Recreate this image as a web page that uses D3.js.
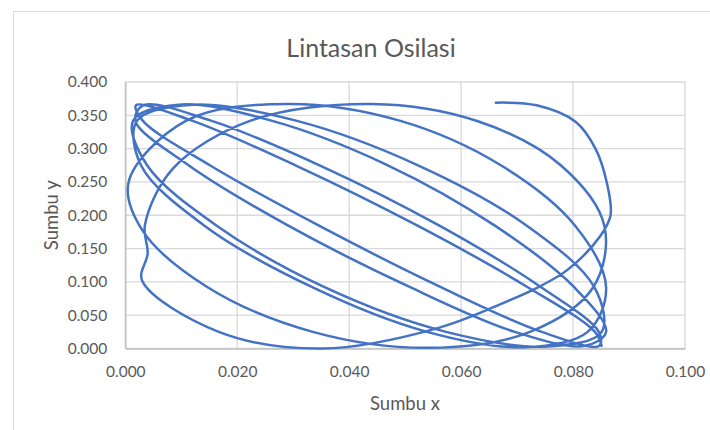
<!DOCTYPE html>
<html>
<head>
<meta charset="utf-8">
<script src="https://cdn.jsdelivr.net/npm/d3@7"></script>
<style>
  html, body { margin: 0; padding: 0; background: #ffffff; }
  svg { display: block; }
</style>
</head>
<body>
<svg id="chart" width="710" height="430"></svg>
<script>
// ---- data (in time order) ----
const chartTitle = "Lintasan Osilasi";
const xAxisTitle = "Sumbu x";
const yAxisTitle = "Sumbu y";

const xTicks = [0.000, 0.020, 0.040, 0.060, 0.080, 0.100];
const yTicks = [0.000, 0.050, 0.100, 0.150, 0.200, 0.250, 0.300, 0.350, 0.400];

const xValues = [
  0.0662, 0.0735, 0.0805, 0.0840, 0.0860, 0.0867, 0.0848, 0.0790, 0.0740, 0.0680, 0.0560, 0.0352, 0.0167, 0.0030, 0.0040, 0.0035, 0.0085, 0.0224,
  0.0440, 0.0630, 0.0778, 0.0856, 0.0836, 0.0723, 0.0544, 0.0335, 0.0147, 0.0030, 0.0006, 0.0109,
  0.0290, 0.0490, 0.0671, 0.0804, 0.0859, 0.0826, 0.0712, 0.0539, 0.0334, 0.0142, 0.0028, 0.0021,
  0.0122, 0.0305, 0.0523, 0.0718, 0.0838, 0.0851, 0.0754, 0.0573, 0.0356, 0.0164, 0.0039, 0.0014,
  0.0095, 0.0261, 0.0469, 0.0661, 0.0802, 0.0859, 0.0821, 0.0696, 0.0509, 0.0292, 0.0113, 0.0018,
  0.0032, 0.0153, 0.0347, 0.0562, 0.0743, 0.0846, 0.0847, 0.0744, 0.0564, 0.0347, 0.0151, 0.0031,
  0.0019, 0.0119, 0.0304, 0.0523, 0.0719, 0.0839, 0.0851
];
const yValues = [
  0.369, 0.365, 0.340, 0.300, 0.250, 0.200, 0.168, 0.118, 0.093, 0.070, 0.031, 0.000, 0.025, 0.102, 0.143, 0.185, 0.270, 0.342,
  0.367, 0.341, 0.275, 0.184, 0.092, 0.025, 0.001, 0.025, 0.092, 0.178, 0.250, 0.342,
  0.367, 0.342, 0.275, 0.184, 0.092, 0.025, 0.002, 0.025, 0.092, 0.184, 0.275, 0.342,
  0.366, 0.342, 0.275, 0.184, 0.092, 0.025, 0.003, 0.025, 0.092, 0.184, 0.275, 0.342,
  0.366, 0.342, 0.275, 0.184, 0.092, 0.025, 0.004, 0.025, 0.092, 0.184, 0.275, 0.342,
  0.365, 0.342, 0.275, 0.184, 0.092, 0.025, 0.004, 0.025, 0.092, 0.184, 0.275, 0.342,
  0.365, 0.342, 0.275, 0.184, 0.092, 0.025, 0.004
];

// ---- layout ----
const plot = { left: 125.3, right: 685, top: 82, bottom: 348.5 };
const fontFamily = "Lato, 'Open Sans', 'Liberation Sans', sans-serif";
const textColor = "#595959";

const svg = d3.select("#chart");

// chart area border
svg.append("rect")
  .attr("x", 13.5).attr("y", 11.5)
  .attr("width", 730).attr("height", 450)
  .attr("fill", "#ffffff")
  .attr("stroke", "#d9d9d9")
  .attr("stroke-width", 1);

const x = d3.scaleLinear().domain([0, 0.1]).range([plot.left, plot.right]);
const y = d3.scaleLinear().domain([0, 0.4]).range([plot.bottom, plot.top]);

// gridlines
const grid = svg.append("g");
grid.selectAll("line.vg").data(xTicks).enter().append("line")
  .attr("class", "vg")
  .attr("x1", d => x(d)).attr("x2", d => x(d))
  .attr("y1", plot.top).attr("y2", plot.bottom)
  .attr("stroke", "#d9d9d9").attr("stroke-width", 1.3);
grid.selectAll("line.hg").data(yTicks).enter().append("line")
  .attr("class", "hg")
  .attr("x1", plot.left).attr("x2", plot.right)
  .attr("y1", d => y(d)).attr("y2", d => y(d))
  .attr("stroke", "#d9d9d9").attr("stroke-width", 1.3);

// axes
const xAxis = d3.axisBottom(x).tickValues(xTicks).tickFormat(d3.format(".3f")).tickSize(0).tickPadding(17);
const yAxis = d3.axisLeft(y).tickValues(yTicks).tickFormat(d3.format(".3f")).tickSize(0).tickPadding(18);

const gx = svg.append("g").attr("transform", `translate(0,${plot.bottom})`).call(xAxis);
const gy = svg.append("g").attr("transform", `translate(${plot.left},0)`).call(yAxis);
[gx, gy].forEach(g => {
  g.select(".domain").attr("stroke", "#bfbfbf").attr("stroke-width", 1.5);
  g.selectAll("text")
    .attr("fill", textColor)
    .style("font-family", fontFamily)
    .style("font-size", "15.5px");
});

// the trajectory
const pts = xValues.map((v, i) => [v, yValues[i]]);
const line = d3.line()
  .x(d => x(d[0]))
  .y(d => y(d[1]))
  .curve(d3.curveCatmullRom.alpha(0.5));

svg.append("path")
  .datum(pts)
  .attr("d", line)
  .attr("fill", "none")
  .attr("stroke", "#4472c4")
  .attr("stroke-width", 2.5)
  .attr("stroke-linejoin", "round")
  .attr("stroke-linecap", "round");

// titles
svg.append("text")
  .attr("x", 371).attr("y", 57)
  .attr("text-anchor", "middle")
  .attr("fill", textColor)
  .style("font-family", fontFamily)
  .style("font-size", "25px")
  .text(chartTitle);

svg.append("text")
  .attr("x", 405).attr("y", 410)
  .attr("text-anchor", "middle")
  .attr("fill", textColor)
  .style("font-family", fontFamily)
  .style("font-size", "18.5px")
  .text(xAxisTitle);

svg.append("text")
  .attr("transform", `translate(58,${(plot.top + plot.bottom) / 2}) rotate(-90)`)
  .attr("text-anchor", "middle")
  .attr("fill", textColor)
  .style("font-family", fontFamily)
  .style("font-size", "18.5px")
  .text(yAxisTitle);
</script>
</body>
</html>
